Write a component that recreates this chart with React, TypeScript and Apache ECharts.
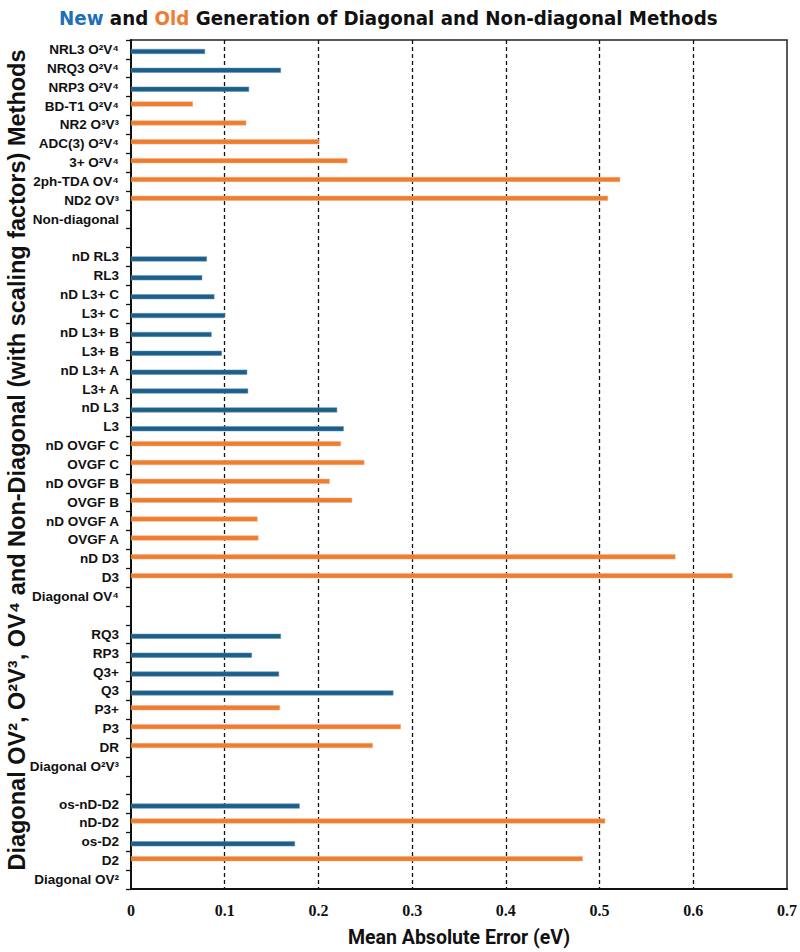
import React, { useEffect, useRef } from 'react';
import * as echarts from 'echarts';

const categories = [
  'NRL3 O²V⁴', 'NRQ3 O²V⁴', 'NRP3 O²V⁴', 'BD-T1 O²V⁴', 'NR2 O³V³', 'ADC(3) O²V⁴', '3+ O²V⁴',
  '2ph-TDA OV⁴', 'ND2 OV³', 'Non-diagonal', ' ',
  'nD RL3', 'RL3', 'nD L3+ C', 'L3+ C', 'nD L3+ B', 'L3+ B', 'nD L3+ A', 'L3+ A', 'nD L3', 'L3',
  'nD OVGF C', 'OVGF C', 'nD OVGF B', 'OVGF B', 'nD OVGF A', 'OVGF A', 'nD D3', 'D3', 'Diagonal OV⁴', '  ',
  'RQ3', 'RP3', 'Q3+', 'Q3', 'P3+', 'P3', 'DR', 'Diagonal O²V³', '   ',
  'os-nD-D2', 'nD-D2', 'os-D2', 'D2', 'Diagonal OV²',
];

// "New" generation methods (blue)
const newValues = [
  0.079, 0.160, 0.126, null, null, null, null,
  null, null, null, null,
  0.081, 0.076, 0.089, 0.100, 0.086, 0.097, 0.124, 0.125, 0.220, 0.227,
  null, null, null, null, null, null, null, null, null, null,
  0.160, 0.129, 0.158, 0.280, null, null, null, null, null,
  0.180, null, 0.175, null, null,
];

// "Old" generation methods (orange)
const oldValues = [
  null, null, null, 0.066, 0.123, 0.201, 0.231,
  0.522, 0.509, null, null,
  null, null, null, null, null, null, null, null, null, null,
  0.224, 0.249, 0.212, 0.236, 0.135, 0.136, 0.581, 0.642, null, null,
  null, null, null, null, 0.159, 0.288, 0.258, null, null,
  null, 0.506, null, 0.482, null,
];

const xMin = 0;
const xMax = 0.7;
const xStep = 0.1;

const titleText = '{n|New} and {o|Old} Generation of Diagonal and Non-diagonal Methods';
const yName = 'Diagonal OV², O²V³, OV⁴ and Non-Diagonal (with scaling factors) Methods';
const xName = 'Mean Absolute Error (eV)';

const BLUE = '#1e5f8a';
const ORANGE = '#ed7d31';

export default function App() {
  const ref = useRef<HTMLDivElement>(null);
  useEffect(() => {
    if (!ref.current) return;
    const chart = echarts.init(ref.current, undefined, { renderer: 'svg' });
    const titleFont = '"DejaVu Sans Condensed", "Liberation Sans Narrow", Roboto, sans-serif';
    const tSize = 20.3;
    chart.setOption({
      animation: false,
      backgroundColor: '#fff',
      title: {
        text: titleText,
        left: 54,
        top: 3,
        textStyle: {
          fontFamily: titleFont,
          fontWeight: 'bold',
          fontSize: tSize,
          color: '#111',
          rich: {
            n: { fontFamily: titleFont, fontWeight: 'bold', fontSize: tSize, color: '#1f6fb8' },
            o: { fontFamily: titleFont, fontWeight: 'bold', fontSize: tSize, color: ORANGE },
          },
        },
      },
      grid: {
        left: 131,
        right: 12,
        top: 40,
        bottom: 59,
        show: true,
        borderColor: '#222',
        borderWidth: 1.5,
        containLabel: false,
      },
      xAxis: {
        type: 'value',
        min: xMin,
        max: xMax,
        interval: xStep,
        name: xName,
        nameLocation: 'middle',
        nameGap: 38,
        nameTextStyle: { fontFamily: 'Roboto, sans-serif', fontWeight: 'bold', fontSize: 19.5, color: '#111' },
        axisLine: { show: true, lineStyle: { color: '#111', width: 2 } },
        axisTick: { show: false },
        axisLabel: {
          margin: 13,
          fontFamily: '"Liberation Serif", "Times New Roman", serif',
          fontWeight: 'bold',
          fontSize: 16,
          color: '#111',
        },
        splitLine: {
          show: true,
          showMinLine: false,
          showMaxLine: false,
          lineStyle: { color: '#111', type: [4, 3], width: 1.3 },
        },
      },
      yAxis: {
        type: 'category',
        data: categories,
        inverse: true,
        axisLine: { show: true, lineStyle: { color: '#111', width: 2 } },
        axisTick: { show: true, interval: 0, length: 5, inside: false, lineStyle: { color: '#111', width: 1.3 } },
        axisLabel: {
          interval: 0,
          margin: 12,
          fontFamily: '"Liberation Sans", Arial, sans-serif',
          fontWeight: 'bold',
          fontSize: 13.5,
          color: '#111',
        },
        splitLine: { show: false },
      },
      graphic: [
        {
          type: 'text',
          x: 17,
          y: 460,
          rotation: Math.PI / 2,
          style: {
            text: yName,
            align: 'center',
            verticalAlign: 'middle',
            font: 'bold 23.5px "Liberation Sans", Arial, sans-serif',
            fill: '#111',
          },
        },
      ],
      series: [
        {
          name: 'Old',
          type: 'bar',
          data: oldValues,
          barWidth: 5,
          barGap: '-20%',
          itemStyle: { color: ORANGE, borderColor: '#f5a877', borderWidth: 0.5 },
        },
        {
          name: 'New',
          type: 'bar',
          data: newValues,
          barWidth: 5,
          barGap: '-20%',
          itemStyle: { color: BLUE, borderColor: '#5b8fb3', borderWidth: 0.5 },
        },
      ],
    });
    return () => chart.dispose();
  }, []);
  return <div ref={ref} style={{ position: 'fixed', left: 0, top: 0, width: 800, height: 952 }} />;
}
